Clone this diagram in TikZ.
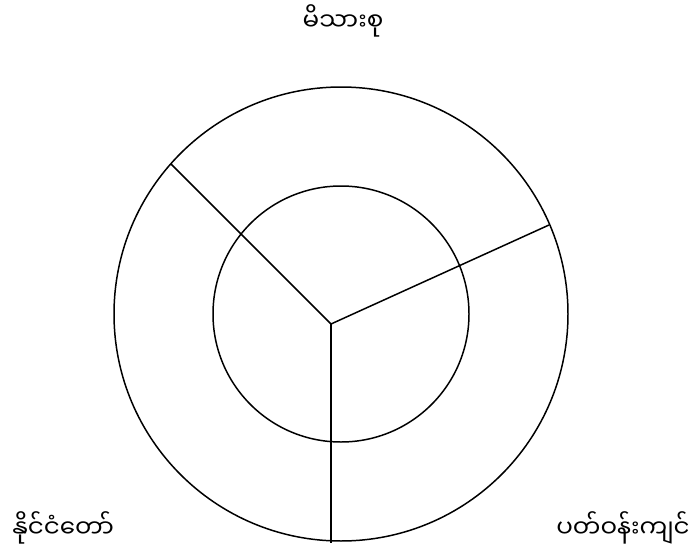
\documentclass[tikz,border=0pt]{standalone}
\usepackage{fontspec}
\newfontfamily\mmfont[Script=Myanmar]{Noto Sans Myanmar UI}
\usetikzlibrary{positioning}

\begin{document}
\begin{tikzpicture}[x=0.02cm,y=-0.02cm,
  every node/.style={font=\mmfont\fontsize{14}{17}\selectfont},
  ring/.style={line width=0.85pt},
  spoke/.style={line width=0.85pt},
  label/.style={inner sep=0pt}]
  \useasboundingbox (0,0) rectangle (697,558);
  \coordinate (mid) at (341,314);
  \coordinate (hub) at (331,324);
  % two rings
  \draw[ring] (mid) circle[radius=227];
  \draw[ring] (mid) circle[radius=128];
  % spoke ends on the outer ring
  \coordinate (endfam) at (171,164);
  \coordinate (endenv) at (549,225);
  \coordinate (endstate) at (331,543);
  \draw[spoke] (hub) -- (endfam);
  \draw[spoke] (hub) -- (endenv);
  \draw[spoke] (hub) -- (endstate);
  % labels
  \node[label,anchor=base] (family) at (343,30) {မိသားစု};
  \node[label,anchor=base west] (state) at (12,537) {နိုင်ငံတော်};
  \node[label,anchor=base east] (env) at (690,537) {ပတ်ဝန်းကျင်};
\end{tikzpicture}
\end{document}
